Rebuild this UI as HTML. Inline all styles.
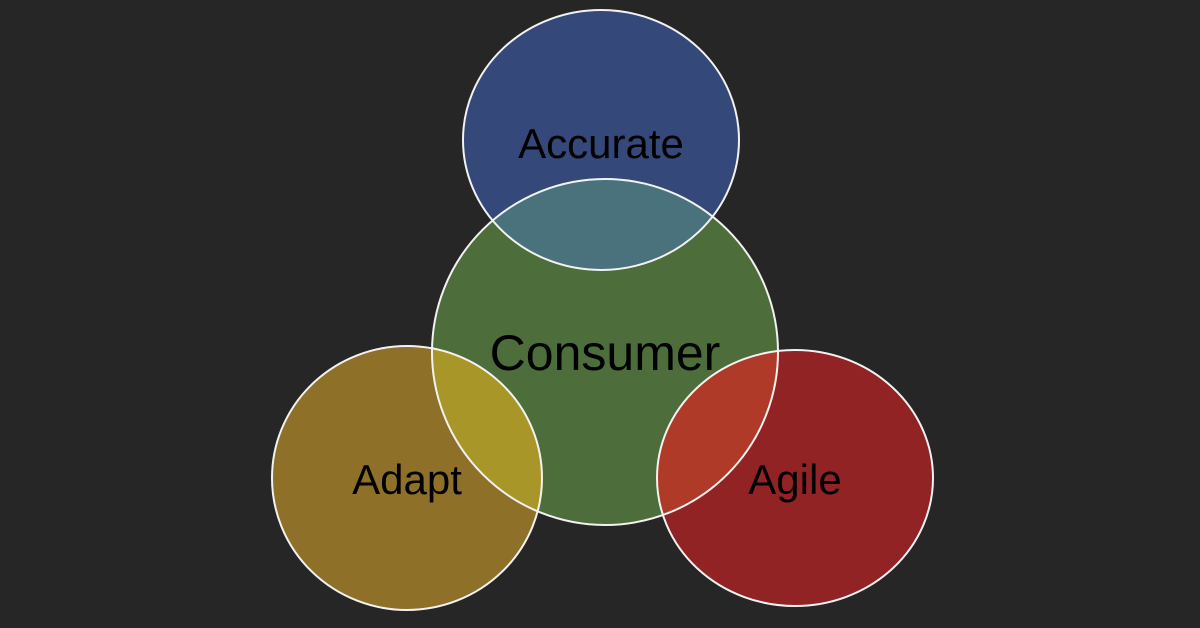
<!DOCTYPE html>
<html><head><meta charset="utf-8"><style>html,body{margin:0;padding:0;background:#262626;}svg{display:block}</style></head>
<body>
<svg width="1200" height="628" viewBox="0 0 1200 628" xmlns="http://www.w3.org/2000/svg">
<rect width="1200" height="628" fill="#262626"/>
<defs>
<clipPath id="cg"><ellipse cx="605" cy="352" rx="173" ry="173"/></clipPath>
</defs>
<ellipse cx="605" cy="352" rx="173" ry="173" fill="#4d6d3a"/>
<ellipse cx="601" cy="140" rx="138" ry="130" fill="#34497a"/>
<ellipse cx="407" cy="478" rx="135" ry="132" fill="#8f7028"/>
<ellipse cx="795" cy="478" rx="138" ry="128" fill="#922325"/>
<g clip-path="url(#cg)">
<ellipse cx="601" cy="140" rx="138" ry="130" fill="#4a727c"/>
<ellipse cx="407" cy="478" rx="135" ry="132" fill="#a89628"/>
<ellipse cx="795" cy="478" rx="138" ry="128" fill="#b03a28"/>
</g>
<g fill="none" stroke="#f2f2f2" stroke-width="2">
<ellipse cx="605" cy="352" rx="173" ry="173"/>
<ellipse cx="601" cy="140" rx="138" ry="130"/>
<ellipse cx="407" cy="478" rx="135" ry="132"/>
<ellipse cx="795" cy="478" rx="138" ry="128"/>
</g>
<g font-family="Liberation Sans, sans-serif" fill="#000" text-anchor="middle">
<text x="601" y="158" font-size="42">Accurate</text>
<text x="605" y="370" font-size="50">Consumer</text>
<text x="407" y="494" font-size="42">Adapt</text>
<text x="795" y="494" font-size="42">Agile</text>
</g>
</svg>
</body></html>
